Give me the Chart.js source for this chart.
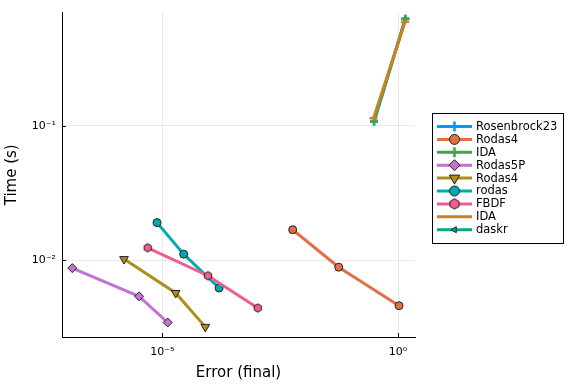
<!DOCTYPE html>
<html>
<head>
<meta charset="utf-8">
<script src="https://cdn.jsdelivr.net/npm/chart.js@4/dist/chart.umd.min.js"></script>
<style>
  html, body { margin: 0; padding: 0; background: #fff; }
  #wrap { width: 576px; height: 384px; }
</style>
</head>
<body>
<div id="wrap"><canvas id="chart" width="576" height="384"></canvas></div>
<script>
// Work-precision data (error, time in seconds)
const rosenErr = [0.310, 1.43];
const rosenTime = [0.1076, 0.624];
const rodas4Err = [5.83e-3, 0.0552, 1.05];
const rodas4Time = [0.0169, 0.00891, 0.00461];
const idaErr = [0.310, 1.43];
const idaTime = [0.1076, 0.624];
const rodas5pErr = [1.23e-7, 3.21e-6, 1.30e-5];
const rodas5pTime = [8.77e-3, 5.41e-3, 3.46e-3];
const rodas4bErr = [1.54e-6, 1.92e-5, 8.17e-5];
const rodas4bTime = [0.01023, 5.73e-3, 3.21e-3];
const rodasErr = [7.72e-6, 2.84e-5, 1.60e-4];
const rodasTime = [0.0191, 0.01114, 6.24e-3];
const fbdfErr = [4.90e-6, 9.31e-5, 1.06e-3];
const fbdfTime = [0.01242, 7.70e-3, 4.43e-3];
const ida2Err = [0.302, 1.41];
const ida2Time = [0.114, 0.593];
const daskrErr = [];
const daskrTime = [];

const xTickVals = [1e-5, 1];
const xTickLabels = ['10\u207B\u2075', '10\u2070'];
const yTickVals = [1e-2, 1e-1];
const yTickLabels = ['10\u207B\u00B2', '10\u207B\u00B9'];

const FONT = 'DejaVu Sans';

function pts(xs, ys) {
    return xs.map((x, i) => ({ x: x, y: ys[i] }));
}

// hexagon marker as an image, Chart.js has no built-in hexagon
function hexImage(r, color) {
    const c = document.createElement('canvas');
    const s = Math.ceil(r * 2 + 3);
    c.width = s; c.height = s;
    const g = c.getContext('2d');
    g.beginPath();
    for (let k = 0; k < 6; k++) {
        const a = Math.PI / 6 + k * Math.PI / 3;
        const px = s / 2 + r * Math.cos(a), py = s / 2 + r * Math.sin(a);
        if (k === 0) g.moveTo(px, py); else g.lineTo(px, py);
    }
    g.closePath();
    g.fillStyle = color; g.fill();
    g.lineWidth = 1; g.strokeStyle = '#222'; g.stroke();
    return c;
}

const hexSmall = hexImage(4.2, '#ED5E93');
const hexBig = hexImage(5.2, '#ED5E93');

function series(label, xs, ys, color, style, opts) {
    return Object.assign({
        label: label,
        data: pts(xs, ys),
        borderColor: color,
        backgroundColor: color,
        borderWidth: 3,
        pointStyle: style,
        pointRadius: 4,
        pointBackgroundColor: color,
        pointBorderColor: '#222',
        pointBorderWidth: 1,
        showLine: true,
        tension: 0
    }, opts || {});
}

const datasets = [
    series('Rosenbrock23', rosenErr, rosenTime, '#009AFA', 'cross', { pointBorderColor: '#009AFA', pointBorderWidth: 2.5 }),
    series('Rodas4', rodas4Err, rodas4Time, '#E36F47', 'circle'),
    series('IDA', idaErr, idaTime, '#3EA44E', 'cross', { pointBorderColor: '#3EA44E', pointBorderWidth: 2.5 }),
    series('Rodas5P', rodas5pErr, rodas5pTime, '#C371D2', 'rectRot', { pointRadius: 4.5 }),
    series('Rodas4', rodas4bErr, rodas4bTime, '#AC8E18', 'triangle', { pointRotation: 180, pointRadius: 5 }),
    series('rodas', rodasErr, rodasTime, '#00AAAE', 'circle'),
    series('FBDF', fbdfErr, fbdfTime, '#ED5E93', hexSmall),
    series('IDA', ida2Err, ida2Time, '#C68225', 'line', { pointBorderColor: '#C68225', pointBorderWidth: 2.5, pointRadius: 4 }),
    series('daskr', daskrErr, daskrTime, '#00A98D', 'triangle', { pointRotation: -90, pointRadius: 3.5 })
];
// later series on top, like the original
datasets.forEach((d, i) => { d.order = -i; });

const legendMarkers = [
    { style: 'cross', r: 5, fill: '#009AFA', stroke: '#009AFA', bw: 2.5 },
    { style: 'circle', r: 5, fill: '#E36F47', stroke: '#222', bw: 1 },
    { style: 'cross', r: 5, fill: '#3EA44E', stroke: '#3EA44E', bw: 2.5 },
    { style: 'rectRot', r: 5.5, fill: '#C371D2', stroke: '#222', bw: 1 },
    { style: 'triangle', r: 6, fill: '#AC8E18', stroke: '#222', bw: 1, rot: 180 },
    { style: 'circle', r: 5, fill: '#00AAAE', stroke: '#222', bw: 1 },
    { style: hexBig, r: 5, fill: '#ED5E93', stroke: '#222', bw: 1 },
    null,
    { style: 'triangle', r: 3.5, fill: '#00A98D', stroke: '#222', bw: 1, rot: -90 }
];

// legend box to the right of the plot
const boxLegend = {
    id: 'boxLegend',
    afterDraw(chart) {
        const ctx = chart.ctx;
        const x0 = 432.5, y0 = 113.5, w = 131, h = 130;
        ctx.save();
        ctx.fillStyle = '#fff';
        ctx.fillRect(x0, y0, w, h);
        ctx.strokeStyle = '#000';
        ctx.lineWidth = 1;
        ctx.strokeRect(x0, y0, w, h);
        ctx.font = '11.5px "' + FONT + '"';
        ctx.textBaseline = 'middle';
        chart.data.datasets.forEach((d, i) => {
            const y = 126.5 + i * 12.9;
            ctx.strokeStyle = d.borderColor;
            ctx.lineWidth = 3;
            ctx.beginPath();
            ctx.moveTo(437, y);
            ctx.lineTo(472, y);
            ctx.stroke();
            const m = legendMarkers[i];
            if (m) {
                ctx.fillStyle = m.fill;
                ctx.strokeStyle = m.stroke;
                ctx.lineWidth = m.bw;
                Chart.helpers.drawPoint(ctx, {
                    pointStyle: m.style, radius: m.r, borderWidth: m.bw, rotation: m.rot || 0
                }, 454.5, y);
            }
            ctx.fillStyle = '#000';
            ctx.fillText(d.label, 476, y + 0.5);
        });
        ctx.restore();
    }
};

// small inward tick marks like the original
const innerTicks = {
    id: 'innerTicks',
    afterDatasetsDraw(chart) {
        const ctx = chart.ctx, a = chart.chartArea;
        const xs = chart.scales.x, ys = chart.scales.y;
        ctx.save();
        ctx.strokeStyle = '#000';
        ctx.lineWidth = 1;
        ctx.beginPath();
        xTickVals.forEach(v => {
            const px = Math.round(xs.getPixelForValue(v)) + 0.5;
            ctx.moveTo(px, a.bottom); ctx.lineTo(px, a.bottom - 4);
        });
        yTickVals.forEach(v => {
            const py = Math.round(ys.getPixelForValue(v)) + 0.5;
            ctx.moveTo(a.left, py); ctx.lineTo(a.left + 4, py);
        });
        ctx.stroke();
        ctx.restore();
    }
};

new Chart(document.getElementById('chart'), {
    type: 'scatter',
    data: { datasets: datasets },
    options: {
        responsive: false,
        animation: false,
        layout: { padding: { top: 12, right: 161, left: 0, bottom: 0 } },
        plugins: {
            legend: { display: false },
            tooltip: { enabled: false }
        },
        scales: {
            x: {
                type: 'logarithmic',
                min: 7.45e-8,
                max: 2.29,
                afterBuildTicks: s => { s.ticks = xTickVals.map(v => ({ value: v })); },
                afterFit: s => { s.height = 47; },
                ticks: {
                    color: '#000',
                    font: { family: FONT, size: 11 },
                    maxRotation: 0,
                    padding: 9,
                    callback: v => xTickLabels[xTickVals.indexOf(v)]
                },
                grid: { color: 'rgba(0,0,0,0.08)', drawTicks: false },
                border: { color: '#000', width: 1 },
                title: {
                    display: true,
                    text: 'Error (final)',
                    color: '#000',
                    font: { family: FONT, size: 15 },
                    padding: { top: 0, bottom: 2 }
                }
            },
            y: {
                type: 'logarithmic',
                min: 2.70e-3,
                max: 0.693,
                afterBuildTicks: s => { s.ticks = yTickVals.map(v => ({ value: v })); },
                afterFit: s => { s.width = 62; },
                ticks: {
                    color: '#000',
                    font: { family: FONT, size: 11 },
                    padding: 6,
                    callback: v => yTickLabels[yTickVals.indexOf(v)]
                },
                grid: { color: 'rgba(0,0,0,0.08)', drawTicks: false },
                border: { color: '#000', width: 1 },
                title: {
                    display: true,
                    text: 'Time (s)',
                    color: '#000',
                    font: { family: FONT, size: 15 },
                    padding: { top: 3, bottom: 0 }
                }
            }
        }
    },
    plugins: [innerTicks, boxLegend]
});
</script>
</body>
</html>
